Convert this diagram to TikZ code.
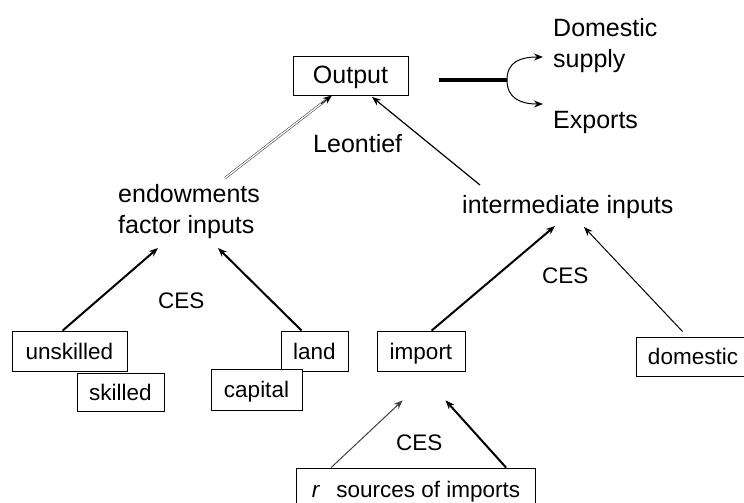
\documentclass[tikz,border=0pt]{standalone}
\usepackage{fontspec}
\setmainfont{Liberation Sans}
\usetikzlibrary{arrows.meta,calc}
\begin{document}
\begin{tikzpicture}[x=1pt,y=-1pt,
  bigfont/.style={font=\fontsize{25}{30}\selectfont},
  smallfont/.style={font=\fontsize{22.5}{27}\selectfont},
  box/.style={draw, line width=0.8pt, fill=white, inner sep=0pt, smallfont, text height=16pt, text depth=0pt},
  lbl/.style={inner sep=0pt, anchor=base west, bigfont},
  slbl/.style={inner sep=0pt, anchor=base west, smallfont},
  tip/.style={-{Stealth[length=9pt,width=7pt]}},
  thinarr/.style={tip, line width=1pt},
  thickarr/.style={tip, line width=2pt},
  dblline/.style={draw=black!70, double=white, double distance=1.2pt, line width=0.6pt}
]
\useasboundingbox (0,0) rectangle (744,503);

% boxes
\node[box, bigfont, text height=17pt, minimum width=115pt, minimum height=39pt] (output) at (350.5,75.5) {Output};
\node[box, minimum width=115pt, minimum height=40pt] (unskilled) at (69.5,351) {unskilled};
\node[box, minimum width=87pt, minimum height=38pt] (skilled) at (120.5,392) {skilled};
\node[box, minimum width=67pt, minimum height=40pt] (land) at (314.5,351) {land};
\node[box, minimum width=91pt, minimum height=41pt] (capital) at (256.5,389.5) {capital};
\node[box, minimum width=88pt, minimum height=40pt] (import) at (421,351) {import};
\node[box, minimum width=114pt, minimum height=39pt] (domestic) at (693,356.5) {domestic};
\node[box, minimum width=239pt, minimum height=42pt] (rsrc) at (416,489) {\itshape r\upshape\hspace{17pt}sources of imports};

% labels
\node[lbl] (dom) at (553,37) {Domestic};
\node[lbl] (supply) at (553,67) {supply};
\node[lbl] (exports) at (553,128) {Exports};
\node[lbl] (leontief) at (313,152) {Leontief};
\node[lbl] (endow) at (118,202) {endowments};
\node[lbl] (factor) at (118,233) {factor inputs};
\node[lbl] (inter) at (462,213) {intermediate inputs};
\node[slbl] (ces1) at (158,308) {CES};
\node[slbl] (ces2) at (542,283) {CES};
\node[slbl] (ces3) at (396,450) {CES};

% output split
\coordinate (lineStart) at ($(output.east)+(31,4.5)$);
\coordinate (split) at (507,80);
\draw[line width=4pt] (lineStart) -- (split);
\draw[thinarr] (split) .. controls (507,62) and (520,57) .. (543,57);
\draw[thinarr] (split) .. controls (507,98) and (520,104) .. (543,104);

% connectors
\coordinate (endowTop) at ($(endow.base west)+(107,-24)$);
\coordinate (outL) at ($(output.south)+(-18.5,0)$);
\draw[dblline, shorten >=7pt] (endowTop) -- (outL);
\draw[tip, line width=0.8pt] ($(endowTop)!0.9!(outL)$) -- (outL);
\draw[thinarr, line width=1.2pt] ($(inter.base west)+(18,-28)$) -- ($(output.south)+(21.5,1.5)$);
\draw[thickarr] ($(unskilled.north west)+(51,0)$) -- ($(factor.base west)+(40,15)$);
\draw[thickarr] ($(land.north west)+(21,0)$) -- ($(factor.base west)+(100,15)$);
\draw[thickarr] ($(import.north west)+(55,0)$) -- ($(inter.base west)+(93,13)$);
\draw[thinarr] ($(domestic.north west)+(47,-5)$) -- ($(inter.base west)+(122,14)$);
\draw[thinarr, draw=black!75] ($(rsrc.north west)+(35,0)$) -- ($(import.south west)+(26,29)$);
\draw[thickarr] ($(rsrc.north west)+(210,0)$) -- ($(import.south west)+(69,29)$);
\end{tikzpicture}
\end{document}
